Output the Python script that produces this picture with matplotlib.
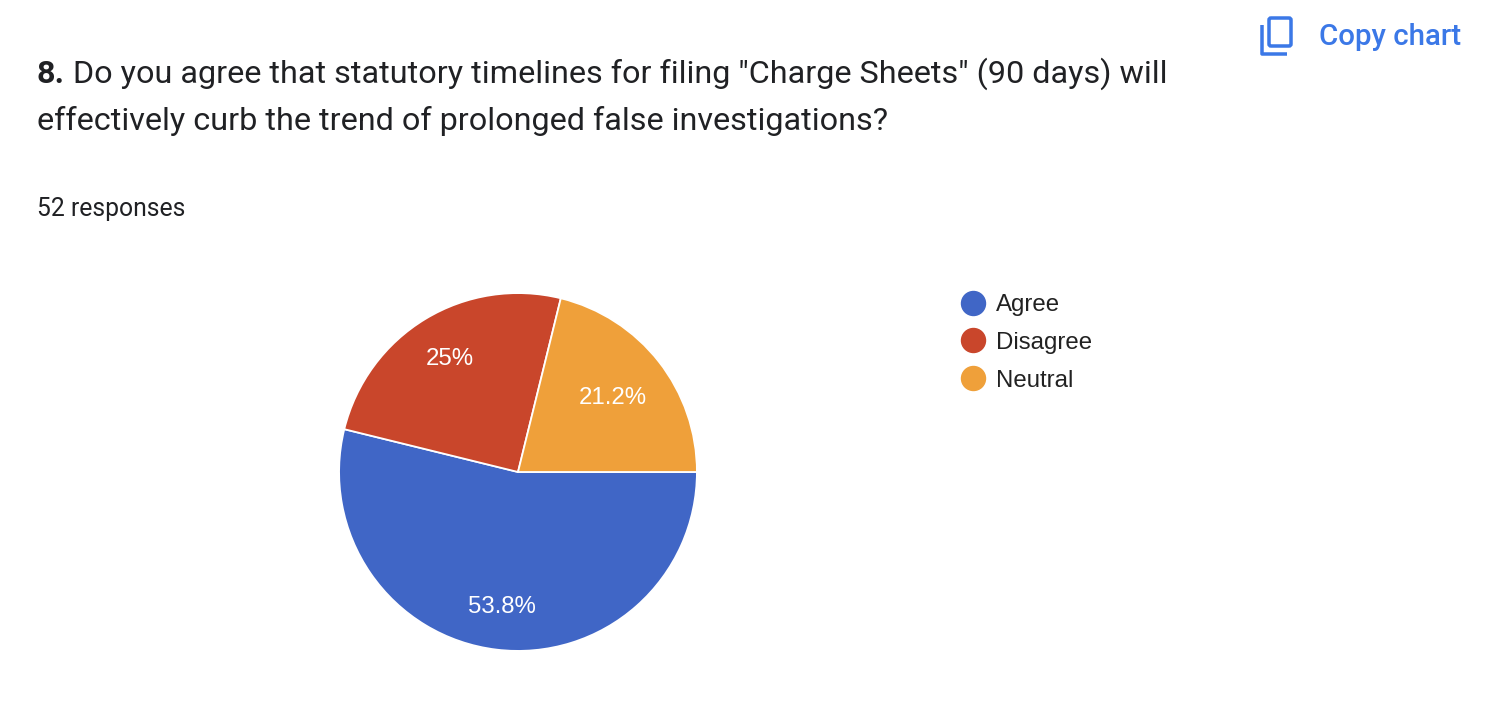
import matplotlib
matplotlib.use("Agg")
import matplotlib.pyplot as plt
from matplotlib.lines import Line2D
from matplotlib.patches import FancyBboxPatch
import numpy as np

# ---- data ----
question_number = "8."
question_text = ['Do you agree that statutory timelines for filing "Charge Sheets" (90 days) will',
                 'effectively curb the trend of prolonged false investigations?']
responses_label = "52 responses"
categories = ["Agree", "Disagree", "Neutral"]
counts = [28, 13, 11]

# ---- style ----
colors = ["#4066c6", "#c9462b", "#efa03a"]
label_radius = [0.76, 0.74, 0.67]
W, H, DPI = 1508, 704, 100
PX = 72.0 / DPI  # points per pixel

fig = plt.figure(figsize=(W / DPI, H / DPI), dpi=DPI)
fig.patch.set_facecolor("white")

def fx(x):
    return x / W

def fy(y):
    return 1 - y / H

# pie axes: center (518,472), radius 179 px
cx, cy, r = 518, 472, 180
ax = fig.add_axes([fx(cx - r), fy(cy + r), 2 * r / W, 2 * r / H])
total = sum(counts)
wedges, _ = ax.pie(counts, colors=colors, startangle=0, counterclock=False,
                   radius=1, wedgeprops=dict(edgecolor="white", linewidth=1.3))
ax.set_xlim(-1.006, 1.006)
ax.set_ylim(-1.006, 1.006)
ax.set_aspect("equal")
ax.axis("off")

def fmt(c):
    p = 100.0 * c / total
    s = f"{p:.1f}"
    if s.endswith(".0"):
        s = s[:-2]
    return s + "%"

for w, c, lr in zip(wedges, counts, label_radius):
    ang = np.deg2rad((w.theta1 + w.theta2) / 2)
    ax.text(lr * np.cos(ang), lr * np.sin(ang), fmt(c), color="white",
            ha="center", va="center", fontsize=24 * PX,
            family="Liberation Sans")

# title
renderer = fig.canvas.get_renderer()
TS = 32.4 * PX
t0 = fig.text(fx(37), fy(83), question_number, fontsize=TS, fontweight="bold",
              family="Roboto", color="#202124", va="baseline", ha="left")
bb = t0.get_window_extent(renderer)
x_after = bb.x1 / W
fig.text(x_after, fy(83), " " + question_text[0], fontsize=TS,
         family="Roboto", color="#202124", va="baseline", ha="left")
fig.text(fx(37), fy(130), question_text[1], fontsize=TS,
         family="Roboto", color="#202124", va="baseline", ha="left")
fig.text(fx(37), fy(216), responses_label, fontsize=24.8 * PX,
         family="Roboto", color="#202124", va="baseline", ha="left")

# legend
handles = [Line2D([], [], marker="o", linestyle="none", markersize=24 * PX,
                  markerfacecolor=col, markeredgecolor=col) for col in colors]
leg = fig.legend(handles, categories, loc="upper left",
                 bbox_to_anchor=(fx(961), fy(294)), frameon=False,
                 prop=dict(family="Liberation Sans", size=24 * PX),
                 handlelength=1.0, handletextpad=0.45, labelspacing=0.66,
                 borderpad=0, borderaxespad=0)
for t in leg.get_texts():
    t.set_color("#222222")

# "Copy chart" button
ov = fig.add_axes([0, 0, 1, 1], zorder=5)
ov.set_xlim(0, W)
ov.set_ylim(H, 0)
ov.axis("off")
blue = "#3b78e7"
ov.add_patch(FancyBboxPatch((1269, 18), 22, 28, boxstyle="round,pad=0,rounding_size=2",
                            fill=False, edgecolor=blue, linewidth=3.5 * PX))
ov.plot([1262, 1262, 1287], [25, 53.5, 53.5], color=blue, linewidth=3.5 * PX,
        solid_capstyle="butt", solid_joinstyle="round")
ov.text(1319, 45, "Copy chart", fontsize=29.5 * PX, family="Roboto", fontweight="medium",
        color=blue, va="baseline", ha="left")

fig.savefig("out.png", dpi=DPI, facecolor="white")
